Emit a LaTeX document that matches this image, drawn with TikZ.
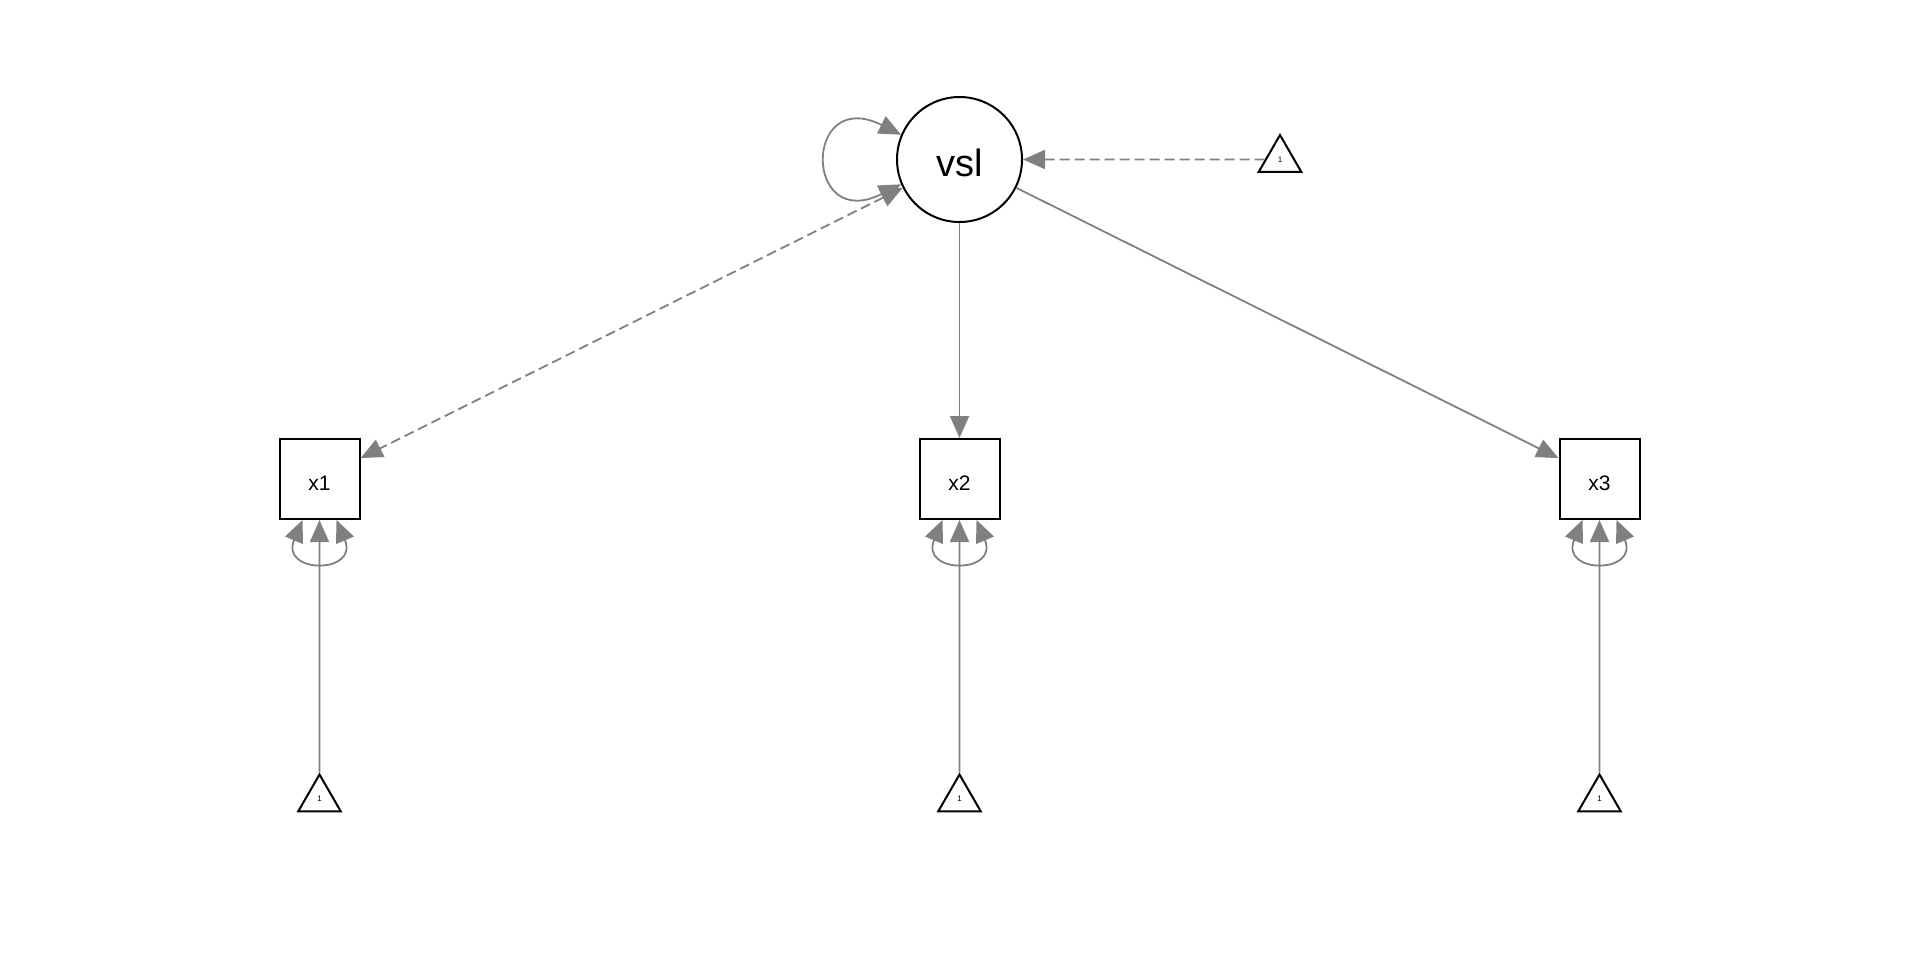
\documentclass[tikz,border=0pt]{standalone}
\usepackage{fontspec}
\setmainfont{Liberation Sans}
\usetikzlibrary{arrows.meta,shapes.geometric}
\definecolor{edgegray}{RGB}{128,128,128}
\begin{document}
\begin{tikzpicture}[x=0.5pt,y=-0.5pt,
 manifest/.style={rectangle,draw=black,line width=1pt,minimum size=40pt,inner sep=0pt,text height=11.7pt,text depth=0pt,font=\fontsize{10.5pt}{11pt}\selectfont},
 latent/.style={circle,draw=black,line width=1pt,minimum size=62.5pt,inner sep=0pt,text height=16.5pt,text depth=0pt,font=\fontsize{19pt}{20pt}\selectfont},
 constant/.style={regular polygon,regular polygon sides=3,draw=black,line width=1pt,minimum size=24.5pt,inner sep=0pt,font=\fontsize{4pt}{4pt}\selectfont},
 edge/.style={draw=edgegray,line width=0.9pt,-{Triangle[length=11pt,width=9.5pt]}},
 biedge/.style={draw=edgegray,line width=0.9pt,{Triangle[length=11pt,width=9.5pt]}-{Triangle[length=11pt,width=9.5pt]}},
 dashedge/.style={dash pattern=on 5pt off 2.5pt}]
\useasboundingbox (0,0) rectangle (1920,960);
\node[latent] (vsl) at (959.5,159.5) {vsl};
\node[manifest] (x1) at (319.5,479) {x1};
\node[manifest] (x2) at (959.5,479) {x2};
\node[manifest] (x3) at (1599.5,479) {x3};
\node[constant] (c0) at (1280,159.5) {1};
\node[constant] (c1) at (319.5,799) {1};
\node[constant] (c2) at (959.5,799) {1};
\node[constant] (c3) at (1599.5,799) {1};
\draw[edge] (vsl) -- (x2);
\draw[edge] (vsl) -- (x3.153);
\draw[biedge,dashedge] (vsl) -- (x1.27);
\draw[edge,dashedge] (c0) -- (vsl);
\draw[edge] (c1) -- (x1);
\draw[edge] (c2) -- (x2);
\draw[edge] (c3) -- (x3);
\draw[biedge] (vsl.157) .. controls +(-98,-49) and +(-98,49) .. (vsl.203);
\draw[biedge] ([xshift=-8.5pt]x1.south) .. controls +(-22.7,54.2) and +(22.7,54.2) .. ([xshift=8.5pt]x1.south);
\draw[biedge] ([xshift=-8.5pt]x2.south) .. controls +(-22.7,54.2) and +(22.7,54.2) .. ([xshift=8.5pt]x2.south);
\draw[biedge] ([xshift=-8.5pt]x3.south) .. controls +(-22.7,54.2) and +(22.7,54.2) .. ([xshift=8.5pt]x3.south);
\end{tikzpicture}
\end{document}
